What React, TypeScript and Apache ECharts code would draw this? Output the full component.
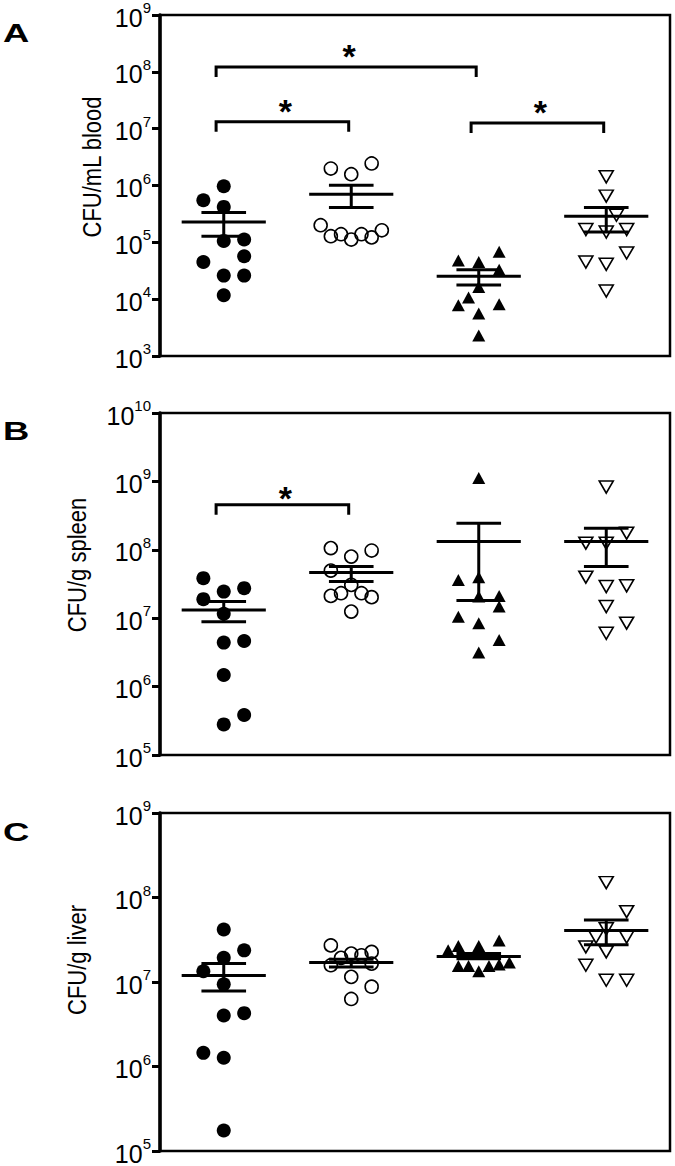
import React, { useEffect, useRef } from "react";
import * as echarts from "echarts";

const FONT = "'Liberation Sans', Arial, Helvetica, sans-serif";

// ---------- DATA ----------
// Groups (left to right): filled circle, open circle, filled triangle, open inverted triangle
const groupCount = 4;

// Panel A: CFU/mL blood
const bloodValues = [
  [9.7e5, 5.5e5, 4.2e5, 1.06e5, 1.12e5, 5.7e4, 4.5e4, 2.6e4, 2.6e4, 1.17e4],
  [1.99e6, 1.58e6, 2.44e6, 2.0e5, 1.28e5, 1.39e5, 1.12e5, 1.39e5, 1.22e5, 1.63e5],
  [4.8e4, 4.5e4, 6.8e4, 3.3e4, 1.64e4, 1.07e4, 7.8e3, 8.1e3, 5.6e3, 2.3e3],
  [1.42e6, 6.5e5, 3.0e5, 1.68e5, 1.52e5, 1.68e5, 6.5e4, 4.5e4, 4.1e4, 1.39e4],
];
const bloodJitter = [
  [0, -0.16, 0, 0, 0.16, 0.16, -0.16, 0, 0.16, 0],
  [-0.16, 0, 0.16, -0.24, -0.16, -0.08, 0, 0.08, 0.16, 0.24],
  [-0.16, 0, 0.16, 0.16, 0, -0.08, -0.16, 0.16, 0, 0],
  [0, 0, 0.08, -0.16, 0, 0.16, 0.16, -0.16, 0, 0],
];
const bloodMean = [2.29e5, 7.0e5, 2.53e4, 2.88e5];
const bloodSemLow = [1.28e5, 4.1e5, 1.78e4, 1.52e5];
const bloodSemHigh = [3.35e5, 1.01e6, 3.3e4, 4.1e5];
// significance brackets: [fromGroup, toGroup, bracket height value]
const bloodBrackets = [
  [0, 2, 1.22e8],
  [0, 1, 1.32e7],
  [2, 3, 1.26e7],
];

// Panel B: CFU/g spleen
const spleenValues = [
  [3.85e7, 2.45e7, 2.75e7, 1.9e7, 1.16e7, 4.4e6, 4.65e6, 1.48e6, 3.85e5, 2.8e5],
  [1.06e8, 7.96e7, 9.75e7, 4.97e7, 3.07e7, 2.12e7, 2.32e7, 2.32e7, 2.03e7, 1.25e7],
  [1.12e9, 3.63e7, 3.98e7, 2.07e7, 2.12e7, 1.48e7, 1.05e7, 8.45e6, 4.82e6, 3.14e6],
  [8.25e8, 1.75e8, 1.25e8, 1.25e8, 3.98e7, 2.9e7, 2.97e7, 1.48e7, 8.45e6, 6.03e6],
];
const spleenJitter = [
  [-0.16, 0, 0.16, -0.16, 0, 0, 0.16, 0, 0.16, 0],
  [-0.16, 0, 0.16, -0.16, 0, -0.16, -0.08, 0.08, 0.16, 0],
  [0, -0.16, 0, 0, 0.16, 0.16, -0.16, 0, 0.16, 0],
  [0, 0.16, -0.16, 0, -0.16, 0, 0.16, 0, 0.16, 0],
];
const spleenMean = [1.32e7, 4.65e7, 1.32e8, 1.32e8];
const spleenSemLow = [8.9e6, 3.43e7, 1.81e7, 5.7e7];
const spleenSemHigh = [1.75e7, 5.7e7, 2.45e8, 2.07e8];
const spleenBrackets = [[0, 1, 4.55e8]];

// Panel C: CFU/g liver
const liverValues = [
  [4.18e7, 2.37e7, 1.93e7, 1.34e7, 9.4e6, 4.02e6, 4.28e6, 1.45e6, 1.27e6, 1.75e5],
  [2.71e7, 1.93e7, 2.17e7, 2.07e7, 2.27e7, 1.58e7, 1.65e7, 1.15e7, 8.8e6, 6.3e6],
  [2.37e7, 2.67e7, 2.67e7, 3.1e7, 1.7e7, 1.55e7, 1.55e7, 1.34e7, 1.55e7, 1.61e7],
  [1.5e8, 6.8e7, 4.26e7, 3.4e7, 3.4e7, 2.6e7, 2.27e7, 1.58e7, 1.05e7, 1.05e7],
];
const liverJitter = [
  [0, 0.16, 0, -0.16, 0, 0, 0.16, -0.16, 0, 0],
  [-0.16, -0.08, 0, 0.08, 0.16, -0.16, 0.16, 0, 0.16, 0],
  [-0.24, -0.16, 0, 0.16, 0.24, -0.16, -0.08, 0, 0.08, 0.16],
  [0, 0.16, 0, -0.08, 0.16, -0.16, 0, -0.16, 0, 0.16],
];
const liverMean = [1.19e7, 1.7e7, 2.01e7, 4.06e7];
const liverSemLow = [7.8e6, 1.51e7, 1.89e7, 2.76e7];
const liverSemHigh = [1.65e7, 1.86e7, 2.17e7, 5.43e7];
const liverBrackets: number[][] = [];

// Y axis ranges (decades)
const bloodRange = [1e3, 1e9];
const spleenRange = [1e5, 1e10];
const liverRange = [1e5, 1e9];

const yNames = ["CFU/mL blood", "CFU/g spleen", "CFU/g liver"];
const panelLetters = ["A", "B", "C"];

// ---------- LAYOUT / STYLE ----------
const panels = [
  { values: bloodValues, jitter: bloodJitter, mean: bloodMean, low: bloodSemLow, high: bloodSemHigh, brackets: bloodBrackets, range: bloodRange,
    top: 15, height: 341, nameX: 92, nameY: 167, letterY: 33, starGap: 18 },
  { values: spleenValues, jitter: spleenJitter, mean: spleenMean, low: spleenSemLow, high: spleenSemHigh, brackets: spleenBrackets, range: spleenRange,
    top: 413, height: 342, nameX: 77, nameY: 565, letterY: 431, starGap: 14 },
  { values: liverValues, jitter: liverJitter, mean: liverMean, low: liverSemLow, high: liverSemHigh, brackets: liverBrackets, range: liverRange,
    top: 813, height: 341, nameX: 77, nameY: 960, letterY: 832, starGap: 16 },
];

const markerStyles: any[] = [
  { symbol: "circle", symbolSize: 14, symbolRotate: 0, itemStyle: { color: "#000", opacity: 1 } },
  { symbol: "circle", symbolSize: 13, symbolRotate: 0, itemStyle: { color: "rgba(255,255,255,0)", borderColor: "#000", borderWidth: 1.6, opacity: 1 } },
  { symbol: "triangle", symbolSize: [13, 12], symbolRotate: 0, itemStyle: { color: "#000", opacity: 1 } },
  { symbol: "triangle", symbolSize: [14, 12], symbolRotate: 180, itemStyle: { color: "rgba(255,255,255,0)", borderColor: "#000", borderWidth: 1.6, opacity: 1 } },
];

const LW = 3;

function buildOption() {
  const grid: any[] = [];
  const xAxis: any[] = [];
  const yAxis: any[] = [];
  const series: any[] = [];
  const graphic: any[] = [];

  panels.forEach((p, idx) => {
    grid.push({ left: 160, top: p.top, width: 510, height: p.height, show: true, borderColor: "#000", borderWidth: 2.5, backgroundColor: "transparent" });
    xAxis.push({ type: "value", gridIndex: idx, min: 0, max: groupCount, show: false, splitLine: { show: false } });
    yAxis.push({
      type: "log",
      logBase: 10,
      gridIndex: idx,
      min: p.range[0],
      max: p.range[1],
      interval: 1,
      axisLine: { show: true, lineStyle: { color: "#000", width: 3.5 } },
      axisTick: { show: true, inside: false, length: 8, lineStyle: { color: "#000", width: 3 } },
      minorTick: { show: false },
      splitLine: { show: false },
      axisLabel: {
        margin: 9,
        formatter: (v: number) => `{b|10}{s|${Math.round(Math.log10(v))}}`,
        rich: {
          b: { fontSize: 25, fontFamily: FONT, color: "#000", lineHeight: 30, verticalAlign: "bottom" },
          s: { fontSize: 15, fontFamily: FONT, color: "#000", lineHeight: 15, verticalAlign: "top" },
        },
      },
    });

    p.values.forEach((vals, g) => {
      const m = markerStyles[g];
      series.push({
        type: "scatter",
        xAxisIndex: idx,
        yAxisIndex: idx,
        symbol: m.symbol,
        symbolSize: m.symbolSize,
        symbolRotate: m.symbolRotate,
        itemStyle: m.itemStyle,
        silent: true,
        z: 2,
        data: vals.map((v, i) => [g + 0.5 + p.jitter[g][i], v]),
      });
    });

    series.push({
      type: "custom",
      xAxisIndex: idx,
      yAxisIndex: idx,
      silent: true,
      z: 3,
      encode: { x: 0, y: [1, 2, 3] },
      data: p.mean.map((m, g) => [g + 0.5, m, p.low[g], p.high[g]]),
      renderItem: (_params: any, api: any) => {
        const x = api.value(0), m = api.value(1), lo = api.value(2), hi = api.value(3);
        const a = api.coord([x - 0.33, m]);
        const b = api.coord([x + 0.33, m]);
        const l1 = api.coord([x - 0.175, lo]);
        const l2 = api.coord([x + 0.175, lo]);
        const h1 = api.coord([x - 0.175, hi]);
        const h2 = api.coord([x + 0.175, hi]);
        const c = api.coord([x, m]);
        const st = { stroke: "#000", lineWidth: LW, fill: null };
        return {
          type: "group",
          children: [
            { type: "line", shape: { x1: a[0], y1: a[1], x2: b[0], y2: b[1] }, style: st },
            { type: "line", shape: { x1: c[0], y1: l1[1], x2: c[0], y2: h1[1] }, style: st },
            { type: "line", shape: { x1: l1[0], y1: l1[1], x2: l2[0], y2: l2[1] }, style: st },
            { type: "line", shape: { x1: h1[0], y1: h1[1], x2: h2[0], y2: h2[1] }, style: st },
          ],
        };
      },
    });

    if (p.brackets.length) {
      const gap = p.starGap;
      series.push({
        type: "custom",
        xAxisIndex: idx,
        yAxisIndex: idx,
        silent: true,
        z: 4,
        encode: { x: [0, 1], y: 2 },
        data: p.brackets.map((b) => [b[0] + 0.44, b[1] + 0.48, b[2]]),
        renderItem: (_params: any, api: any) => {
          const p1 = api.coord([api.value(0), api.value(2)]);
          const p2 = api.coord([api.value(1), api.value(2)]);
          return {
            type: "group",
            children: [
              {
                type: "polyline",
                shape: { points: [[p1[0], p1[1] + 10], [p1[0], p1[1]], [p2[0], p2[1]], [p2[0], p2[1] + 10]] },
                style: { stroke: "#000", lineWidth: LW, fill: null },
              },
              {
                type: "text",
                x: (p1[0] + p2[0]) / 2 + 3,
                y: p1[1] - gap + 7,
                style: { text: "*", fontSize: 34, fontWeight: "bold", fontFamily: FONT, fill: "#000", align: "center", verticalAlign: "middle" },
              },
            ],
          };
        },
      });
    }

    graphic.push({
      type: "text",
      x: p.nameX,
      y: p.nameY,
      rotation: Math.PI / 2,
      scaleY: 1.2,
      silent: true,
      style: { text: yNames[idx], fontSize: 22, fontFamily: FONT, fill: "#000", align: "center", verticalAlign: "middle" },
    });
    graphic.push({
      type: "text",
      x: 3,
      y: p.letterY,
      scaleX: 1.4,
      silent: true,
      style: { text: panelLetters[idx], fontSize: 26, fontWeight: "bold", fontFamily: FONT, fill: "#000", align: "left", verticalAlign: "middle" },
    });
  });

  return {
    animation: false,
    backgroundColor: "#fff",
    tooltip: { show: false },
    grid,
    xAxis,
    yAxis,
    series,
    graphic,
  };
}

export default function App() {
  const ref = useRef<HTMLDivElement>(null);
  useEffect(() => {
    document.body.style.margin = "0";
    if (!ref.current) return;
    const chart = echarts.init(ref.current, null, { renderer: "svg" });
    chart.setOption(buildOption() as any);
    return () => chart.dispose();
  }, []);
  return <div ref={ref} style={{ position: "absolute", left: 0, top: 0, width: 675, height: 1166, background: "#fff" }} />;
}
